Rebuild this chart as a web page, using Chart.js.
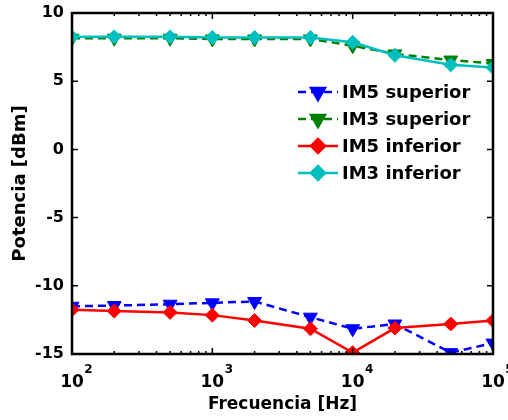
<!DOCTYPE html>
<html>
<head>
<meta charset="utf-8">
<script src="https://cdn.jsdelivr.net/npm/chart.js@4"></script>
<style>
  body { margin: 0; background: #fff; }
  #wrap { width: 508px; height: 420px; }
</style>
</head>
<body>
<div id="wrap"><canvas id="myChart"></canvas></div>
<script>
// frequencies in Hz
var freqs = [100, 200, 500, 1000, 2000, 5000, 10000, 20000, 50000, 100000];
var im5Sup = [-11.5, -11.45, -11.35, -11.25, -11.15, -12.3, -13.15, -12.8, -14.9, -14.2];
var im3Sup = [8.15, 8.15, 8.15, 8.1, 8.1, 8.1, 7.6, 7.0, 6.55, 6.3];
var im5Inf = [-11.75, -11.85, -11.95, -12.15, -12.55, -13.15, -14.9, -13.1, -12.8, -12.55];
var im3Inf = [8.25, 8.25, 8.25, 8.2, 8.2, 8.2, 7.85, 6.9, 6.2, 6.0];
var seriesNames = ["IM5 superior", "IM3 superior", "IM5 inferior", "IM3 inferior"];
var yTicks = [-15, -10, -5, 0, 5, 10];
var xExponents = [2, 3, 4, 5];

var FONT = "DejaVu Sans, sans-serif";

function pts(ys) {
  return freqs.map(function (f, i) { return { x: f, y: ys[i] }; });
}

function ds(label, ys, color, dashed, tri, order) {
  return {
    label: label,
    data: pts(ys),
    borderColor: color,
    backgroundColor: color,
    borderWidth: 2.5,
    borderDash: dashed ? [8, 5] : [],
    pointStyle: tri ? "triangle" : "rectRot",
    rotation: tri ? 180 : 0,
    pointRadius: tri ? 8 : 7,
    pointBorderWidth: 1,
    pointBorderColor: color,
    tension: 0,
    order: order
  };
}

// inward ticks, frame, superscript x labels, legend
var decor = {
  id: "decor",
  afterDatasetsDraw: function (chart) {
    var ctx = chart.ctx, a = chart.chartArea;
    var xs = chart.scales.x, ys = chart.scales.y;
    ctx.save();
    ctx.strokeStyle = "#000";
    ctx.lineWidth = 1.5;
    ctx.beginPath();
    yTicks.forEach(function (v) {
      var py = ys.getPixelForValue(v);
      ctx.moveTo(a.left, py); ctx.lineTo(a.left + 6, py);
      ctx.moveTo(a.right, py); ctx.lineTo(a.right - 6, py);
    });
    for (var e = 2; e <= 5; e++) {
      for (var m = 1; m <= 9; m++) {
        var v = m * Math.pow(10, e);
        if (v > 100000) break;
        var px = xs.getPixelForValue(v);
        var len = m === 1 ? 6 : 3;
        ctx.moveTo(px, a.bottom); ctx.lineTo(px, a.bottom - len);
        ctx.moveTo(px, a.top); ctx.lineTo(px, a.top + len);
      }
    }
    ctx.stroke();
    ctx.lineWidth = 2.5;
    ctx.strokeRect(a.left, a.top, a.right - a.left, a.bottom - a.top);

    // x tick labels 10^n
    ctx.fillStyle = "#000";
    ctx.textBaseline = "alphabetic";
    xExponents.forEach(function (e) {
      var px = xs.getPixelForValue(Math.pow(10, e));
      ctx.font = "bold 17px " + FONT;
      var w = ctx.measureText("10").width;
      ctx.textAlign = "left";
      ctx.fillText("10", px - w / 2, 387);
      ctx.font = "bold 12px " + FONT;
      ctx.fillText(String(e), px + w / 2 + 0.5, 373);
    });

    // legend
    var lx = 298, ly = 92, step = 27;
    chart.data.datasets.forEach(function (d, i) {
      var y = ly + i * step;
      ctx.strokeStyle = d.borderColor;
      ctx.lineWidth = d.borderWidth;
      ctx.setLineDash(d.borderDash);
      ctx.beginPath();
      ctx.moveTo(lx, y); ctx.lineTo(lx + 40, y);
      ctx.stroke();
      ctx.setLineDash([]);
      ctx.fillStyle = d.backgroundColor;
      Chart.helpers.drawPoint(ctx, {
        pointStyle: d.pointStyle, rotation: d.rotation,
        radius: d.pointRadius, borderWidth: 1
      }, lx + 20, y);
      ctx.fillStyle = "#000";
      ctx.font = "bold 18px " + FONT;
      ctx.textAlign = "left";
      ctx.textBaseline = "middle";
      ctx.fillText(d.label, lx + 44, y + 1);
    });
    ctx.restore();
  }
};

new Chart("myChart", {
  type: "line",
  data: {
    datasets: [
      ds(seriesNames[0], im5Sup, "#0000ff", true, true, 4),
      ds(seriesNames[1], im3Sup, "#007f00", true, true, 3),
      ds(seriesNames[2], im5Inf, "#ff0000", false, false, 2),
      ds(seriesNames[3], im3Inf, "#00bfbf", false, false, 1)
    ]
  },
  options: {
    responsive: true,
    maintainAspectRatio: false,
    animation: false,
    layout: { padding: { left: 0, right: 15, top: 13, bottom: 0 } },
    plugins: { legend: { display: false }, tooltip: { enabled: false } },
    scales: {
      x: {
        type: "logarithmic",
        min: 100,
        max: 100000,
        grid: { display: false, drawTicks: false },
        border: { display: false },
        ticks: { display: false },
        title: {
          display: true,
          text: "Frecuencia [Hz]",
          color: "#000",
          font: { family: FONT, size: 17, weight: "bold" },
          padding: { top: 0, bottom: 5 }
        },
        afterFit: function (s) { s.height = 66; }
      },
      y: {
        min: -15,
        max: 10,
        grid: { display: false, drawTicks: false },
        border: { display: false },
        afterBuildTicks: function (s) {
          s.ticks = yTicks.map(function (v) { return { value: v }; });
        },
        ticks: {
          color: "#000",
          padding: 8,
          font: { family: FONT, size: 16, weight: "bold" }
        },
        title: {
          display: true,
          text: "Potencia [dBm]",
          color: "#000",
          font: { family: FONT, size: 18, weight: "bold" },
          padding: { top: 10, bottom: 0 }
        },
        afterFit: function (s) {
          s.width = 72;
          s.paddingTop = 0;
          s.paddingBottom = 0;
        }
      }
    }
  },
  plugins: [decor]
});
</script>
</body>
</html>
